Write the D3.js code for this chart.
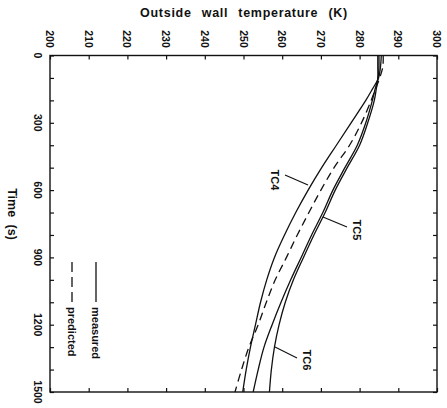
<!DOCTYPE html>
<html>
<head>
<meta charset="utf-8">
<script src="https://cdn.jsdelivr.net/npm/d3@7"></script>
<style>
  html, body { margin: 0; padding: 0; background: #fff; }
  svg text { font-family: "Liberation Sans", Arial, sans-serif; fill: #111; }
</style>
</head>
<body>
<svg id="chart" width="447" height="408"></svg>
<script>
// Time samples (s)
const times = [0, 50, 100, 150, 200, 300, 400, 500, 600, 700, 800, 900, 1000, 1100, 1200, 1300, 1400, 1500];

// Outside wall temperature (K) at each time
const tc4 = [285.6, 285.4, 284.9, 283.3, 281.6, 277.8, 274.0, 270.2, 266.7, 263.5, 260.6, 258.0, 256.0, 254.4, 253.1, 251.8, 250.7, 249.8];
const tc5 = [285.0, 285.0, 284.8, 284.0, 283.3, 281.6, 279.4, 276.2, 273.1, 270.5, 267.6, 264.9, 262.2, 259.7, 257.4, 255.3, 253.8, 252.5];
const tc6 = [284.7, 284.7, 284.7, 284.3, 283.8, 282.1, 280.0, 276.8, 273.7, 271.1, 268.2, 265.5, 262.9, 260.8, 259.2, 258.0, 257.2, 256.7];
const predicted = [286.1, 286.0, 285.2, 284.1, 283.0, 280.5, 277.4, 273.4, 270.0, 266.9, 263.9, 261.1, 258.2, 255.9, 253.8, 251.4, 249.5, 247.8];

const tempTicks = [200, 210, 220, 230, 240, 250, 260, 270, 280, 290, 300];
const timeTicks = [0, 300, 600, 900, 1200, 1500];
const timeMinor = d3.range(0, 1501, 100);

const svg = d3.select("#chart");
const x = d3.scaleLinear().domain([200, 300]).range([50, 437]);
const y = d3.scaleLinear().domain([0, 1500]).range([55.5, 392]);

const ink = "#111";

// Frame
svg.append("rect")
  .attr("x", x(200)).attr("y", y(0))
  .attr("width", x(300) - x(200)).attr("height", y(1500) - y(0))
  .attr("fill", "none").attr("stroke", ink).attr("stroke-width", 1.4);

// Inward ticks on all four sides
function tickOnly(g) {
  g.select(".domain").remove();
  g.selectAll("text").remove();
  g.selectAll("line").attr("stroke", ink).attr("stroke-width", 1.2);
}
svg.append("g").attr("transform", `translate(0,${y(0)})`)
  .call(d3.axisTop(x).tickValues(tempTicks).tickSize(-4)).call(tickOnly);
svg.append("g").attr("transform", `translate(0,${y(1500)})`)
  .call(d3.axisBottom(x).tickValues(tempTicks).tickSize(-4)).call(tickOnly);
svg.append("g").attr("transform", `translate(${x(200)},0)`)
  .call(d3.axisLeft(y).tickValues(timeMinor).tickSize(-4)).call(tickOnly);
svg.append("g").attr("transform", `translate(${x(300)},0)`)
  .call(d3.axisRight(y).tickValues(timeMinor).tickSize(-4)).call(tickOnly);

// Tick labels, turned a quarter turn
svg.append("g").selectAll("text").data(tempTicks).join("text")
  .attr("transform", d => `translate(${x(d)},39) rotate(90)`)
  .attr("text-anchor", "middle").attr("dominant-baseline", "central")
  .attr("font-size", 10.5).attr("font-weight", "bold").text(d => d);
svg.append("g").selectAll("text").data(timeTicks).join("text")
  .attr("transform", d => `translate(38,${y(d)}) rotate(90)`)
  .attr("text-anchor", "middle").attr("dominant-baseline", "central")
  .attr("font-size", 10.5).attr("font-weight", "bold").text(d => d);

// Axis titles
svg.append("text").attr("x", 244).attr("y", 17)
  .attr("text-anchor", "middle").attr("font-size", 12.5).attr("font-weight", "bold")
  .attr("letter-spacing", 0.7).attr("word-spacing", 6)
  .text("Outside wall temperature (K)");
svg.append("text").attr("transform", "translate(12,214) rotate(90)")
  .attr("text-anchor", "middle").attr("dominant-baseline", "central")
  .attr("font-size", 12.5).attr("font-weight", "bold").attr("word-spacing", 4).text("Time (s)");

// Curves
const line = d3.line()
  .x(d => x(d[1])).y(d => y(d[0]))
  .curve(d3.curveCatmullRom.alpha(0.5));
const series = [
  { vals: tc4, dash: null },
  { vals: tc5, dash: null },
  { vals: tc6, dash: null },
  { vals: predicted, dash: "8,5" }
];
svg.append("g").selectAll("path").data(series).join("path")
  .attr("d", s => line(times.map((t, i) => [t, s.vals[i]])))
  .attr("fill", "none").attr("stroke", ink).attr("stroke-width", 1.3)
  .attr("stroke-dasharray", s => s.dash);

// Curve labels with leaders
const curveLabels = [
  { name: "TC4", lx: 275, ly: 180, x1: 285, y1: 175, x2: 308, y2: 185 },
  { name: "TC5", lx: 357, ly: 230, x1: 323, y1: 217, x2: 347, y2: 227 },
  { name: "TC6", lx: 307, ly: 360, x1: 275, y1: 347, x2: 297, y2: 358 }
];
const lab = svg.append("g");
lab.selectAll("line").data(curveLabels).join("line")
  .attr("x1", d => d.x1).attr("y1", d => d.y1)
  .attr("x2", d => d.x2).attr("y2", d => d.y2)
  .attr("stroke", ink).attr("stroke-width", 1.2);
lab.selectAll("text").data(curveLabels).join("text")
  .attr("transform", d => `translate(${d.lx},${d.ly}) rotate(90)`)
  .attr("text-anchor", "middle").attr("dominant-baseline", "central")
  .attr("font-size", 11).attr("font-weight", "bold").text(d => d.name);

// Legend
const legend = [
  { name: "measured", cx: 96, dash: null },
  { name: "predicted", cx: 72, dash: "10,5" }
];
const lg = svg.append("g");
lg.selectAll("line").data(legend).join("line")
  .attr("x1", d => d.cx).attr("x2", d => d.cx)
  .attr("y1", 262).attr("y2", 302)
  .attr("stroke", ink).attr("stroke-width", 1.3)
  .attr("stroke-dasharray", d => d.dash);
lg.selectAll("text").data(legend).join("text")
  .attr("transform", d => `translate(${d.cx},307) rotate(90)`)
  .attr("text-anchor", "start").attr("dominant-baseline", "central")
  .attr("font-size", 11).attr("font-weight", "bold").text(d => d.name);
</script>
</body>
</html>
